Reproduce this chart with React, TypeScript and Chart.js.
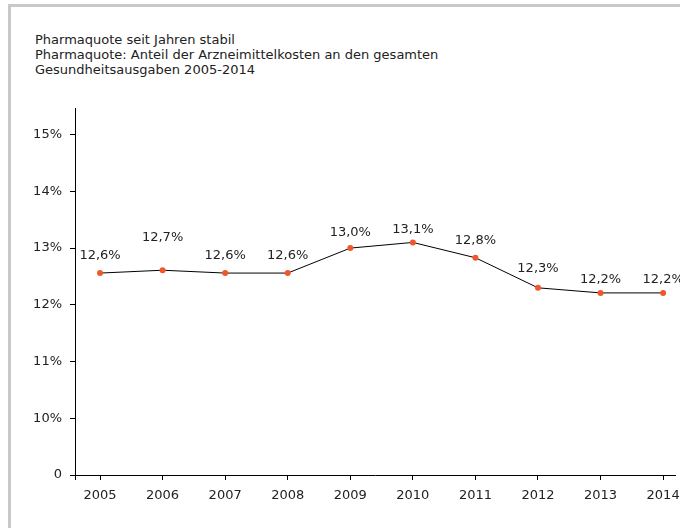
import React, { useEffect, useRef } from "react";
import { Chart, registerables } from "chart.js";

Chart.register(...registerables);

const titleLines = [
  "Pharmaquote seit Jahren stabil",
  "Pharmaquote: Anteil der Arzneimittelkosten an den gesamten",
  "Gesundheitsausgaben 2005-2014",
];

const years = [2005, 2006, 2007, 2008, 2009, 2010, 2011, 2012, 2013, 2014];
const quote = [12.56, 12.61, 12.56, 12.56, 13.0, 13.1, 12.83, 12.3, 12.21, 12.21];
const quoteLabels = ["12,6%", "12,7%", "12,6%", "12,6%", "13,0%", "13,1%", "12,8%", "12,3%", "12,2%", "12,2%"];

const yTickValues = [9, 10, 11, 12, 13, 14, 15];
const yTickLabels = ["0", "10%", "11%", "12%", "13%", "14%", "15%"];

const FONT = "'DejaVu Sans', Verdana, sans-serif";
const TEXT = "#222222";

const labelPlugin = {
  id: "pointLabels",
  afterDatasetsDraw(chart: any, _args: any, opts: any) {
    const ctx = chart.ctx;
    const meta = chart.getDatasetMeta(0);
    ctx.save();
    ctx.font = `13px ${FONT}`;
    ctx.fillStyle = TEXT;
    ctx.textAlign = "center";
    ctx.textBaseline = "middle";
    meta.data.forEach((pt: any, i: number) => {
      const lift = (opts.lift && opts.lift[i]) || 16;
      ctx.fillText(quoteLabels[i], pt.x, pt.y - lift);
    });
    ctx.restore();
  },
};

export default function App() {
  const ref = useRef<HTMLCanvasElement | null>(null);

  useEffect(() => {
    if (!ref.current) return;
    const chart = new Chart(ref.current, {
      type: "line",
      data: {
        datasets: [
          {
            data: years.map((y, i) => ({ x: y, y: quote[i] })),
            borderColor: "#000000",
            borderWidth: 1,
            tension: 0,
            pointRadius: 3,
            pointHoverRadius: 3,
            pointBorderWidth: 0,
            pointBackgroundColor: "#f2572b",
            fill: false,
          },
        ],
      },
      options: {
        responsive: false,
        maintainAspectRatio: false,
        animation: false,
        events: [],
        layout: { padding: { left: 0, right: 5, top: 108, bottom: 23 } },
        plugins: {
          legend: { display: false },
          tooltip: { enabled: false },
          title: { display: false },
          pointLabels: { lift: [17, 33, 17, 17, 15, 13, 17, 19, 13, 13] },
        } as any,
        scales: {
          x: {
            type: "linear",
            min: 2004.6,
            max: 2014.19,
            afterBuildTicks: (s: any) => {
              s.ticks = [2004.6, ...years].map((v) => ({ value: v }));
            },
            afterFit: (s: any) => {
              s.height = 30;
              s.paddingLeft = 0;
              s.paddingRight = 0;
            },
            ticks: {
              autoSkip: false,
              maxRotation: 0,
              padding: 8,
              color: TEXT,
              font: { family: FONT, size: 13 },
              callback: (v: any) => (years.includes(v) ? String(v) : ""),
            },
            grid: {
              display: true,
              drawOnChartArea: false,
              drawTicks: true,
              tickLength: 5,
              color: "#000000",
            },
            border: { display: true, color: "#000000", width: 1 },
          },
          y: {
            type: "linear",
            min: 9,
            max: 15.47,
            afterBuildTicks: (s: any) => {
              s.ticks = yTickValues.map((v) => ({ value: v }));
            },
            afterFit: (s: any) => {
              s.width = 75;
              s.paddingTop = 0;
              s.paddingBottom = 0;
            },
            ticks: {
              autoSkip: false,
              padding: 8,
              color: TEXT,
              font: { family: FONT, size: 13 },
              callback: (_v: any, i: number) => yTickLabels[i],
            },
            grid: {
              display: true,
              drawOnChartArea: false,
              drawTicks: true,
              tickLength: 5,
              color: "#000000",
            },
            border: { display: true, color: "#000000", width: 1 },
          },
        },
      },
      plugins: [labelPlugin],
    });
    return () => chart.destroy();
  }, []);

  return (
    <div style={{ position: "fixed", left: 0, top: 0, width: 680, height: 528, background: "#fff", overflow: "hidden" }}>
      <div
        style={{
          position: "absolute",
          left: 8,
          top: 4,
          width: 672,
          height: 524,
          borderLeft: "3px solid #c8c8c8",
          borderTop: "3px solid #c8c8c8",
          boxSizing: "border-box",
        }}
      />
      <div
        style={{
          position: "absolute",
          left: 35,
          top: 32,
          fontFamily: FONT,
          fontSize: 13,
          lineHeight: "15px",
          color: TEXT,
          whiteSpace: "nowrap",
        }}
      >
        {titleLines.map((t, i) => (
          <div key={i}>{t}</div>
        ))}
      </div>
      <canvas ref={ref} width={680} height={528} style={{ position: "absolute", left: 0, top: 0 }} />
    </div>
  );
}
